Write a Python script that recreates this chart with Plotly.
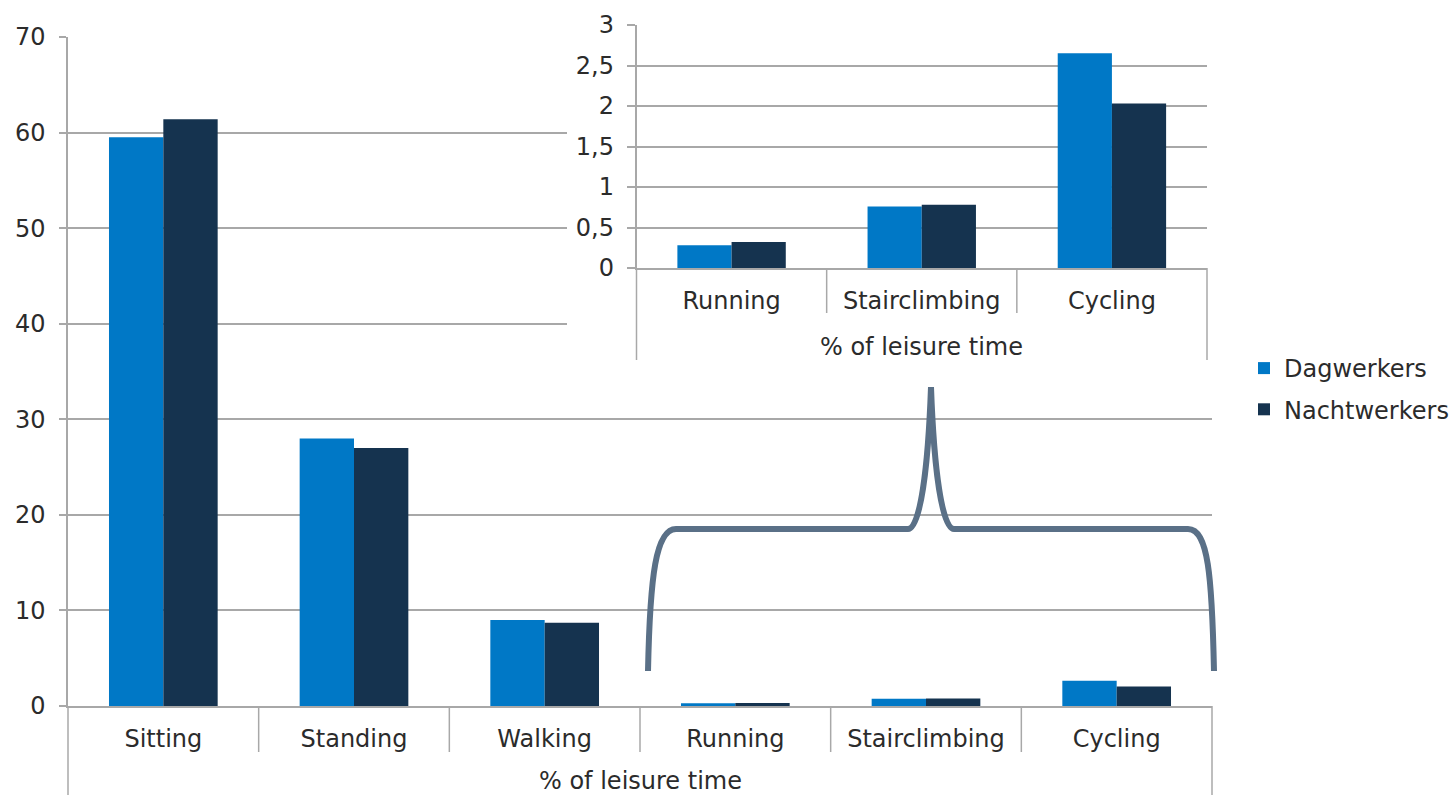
import plotly.graph_objects as go

# Share of leisure time spent per activity, day workers vs night workers
activities = ["Sitting", "Standing", "Walking", "Running", "Stairclimbing", "Cycling"]
dagwerkers = [59.5, 28.0, 9.0, 0.28, 0.76, 2.65]
nachtwerkers = [61.4, 27.0, 8.7, 0.32, 0.78, 2.03]

# The zoomed-in panel repeats the three smallest activities
inset_slice = slice(3, 6)

series_names = ["Dagwerkers", "Nachtwerkers"]
series_colors = ["#0078C6", "#15334F"]

axis_title = "% of leisure time"
main_ticks = [0, 10, 20, 30, 40, 50, 60, 70]
inset_ticks = [0, 0.5, 1, 1.5, 2, 2.5, 3]

W, H = 1450, 795
FONT = "DejaVu Sans"
TXT = "#2b2b2b"
GRID = "#a8a8a8"
FS = 24


def px_x(v):
    return v / W


def px_y(v):
    return 1 - v / H


fig = go.Figure()

# main panel bars
for name, vals, col in zip(series_names, [dagwerkers, nachtwerkers], series_colors):
    fig.add_trace(go.Bar(
        x=activities, y=vals, name=name, marker=dict(color=col, line=dict(width=0)),
        xaxis="x", yaxis="y", legendgroup=name, showlegend=True,
    ))

# empty layer on x2/y2: its white plot background masks the main grid behind the inset
fig.add_trace(go.Scatter(x=[], y=[], xaxis="x2", yaxis="y2", showlegend=False,
                         hoverinfo="skip"))

# inset bars
for name, vals, col in zip(series_names, [dagwerkers, nachtwerkers], series_colors):
    fig.add_trace(go.Bar(
        x=activities[inset_slice], y=vals[inset_slice], name=name,
        marker=dict(color=col, line=dict(width=0)),
        xaxis="x3", yaxis="y3", legendgroup=name, showlegend=False,
    ))

# panel domains (pixel based)
main_x = [px_x(68), px_x(1212)]
main_y = [px_y(706), px_y(37)]
ins_x = [px_x(636.5), px_x(1207)]
ins_y = [px_y(268), px_y(25)]
mask_x = [px_x(567), px_x(1214)]
mask_y = [px_y(372), 1]

main_h = 706 - 37
ins_h = 268 - 25

axis_common = dict(
    tickfont=dict(family=FONT, size=FS, color=TXT),
    linecolor=GRID, linewidth=1.5, gridcolor=GRID, gridwidth=1.5,
)
hidden = dict(visible=False, showgrid=False, zeroline=False, fixedrange=True)

fig.update_layout(
    width=W, height=H,
    margin=dict(l=0, r=0, t=0, b=0, autoexpand=False),
    paper_bgcolor="white", plot_bgcolor="white",
    separators=",.",
    barmode="group", bargap=0.43, bargroupgap=0,
    font=dict(family=FONT, size=FS, color=TXT),
    showlegend=True,
    legend=dict(
        x=px_x(1244), y=px_y(346), xanchor="left", yanchor="top",
        bgcolor="rgba(0,0,0,0)", tracegroupgap=7,
        font=dict(family=FONT, size=FS, color=TXT),
    ),
    xaxis=dict(
        domain=main_x, anchor="y", type="category",
        categoryorder="array", categoryarray=activities,
        showgrid=False, showline=True, ticks="", ticklabelstandoff=10,
        zeroline=False, automargin=False, **axis_common,
    ),
    yaxis=dict(
        domain=main_y, anchor="x", range=[0, 70], tickvals=main_ticks,
        showgrid=True, showline=True, ticks="outside", ticklen=7, tickcolor=GRID,
        tickwidth=1.5, zeroline=False, ticklabelstandoff=9, automargin=False,
        **axis_common,
    ),
    xaxis2=dict(domain=mask_x, anchor="y2", range=[0, 1], **hidden),
    yaxis2=dict(domain=mask_y, anchor="x2", range=[0, 1], **hidden),
    xaxis3=dict(
        domain=ins_x, anchor="y3", type="category",
        categoryorder="array", categoryarray=activities[inset_slice],
        showgrid=False, showline=True, ticks="", ticklabelstandoff=10,
        zeroline=False, automargin=False, **axis_common,
    ),
    yaxis3=dict(
        domain=ins_y, anchor="x3", range=[0, 3], tickvals=inset_ticks,
        showgrid=True, showline=True, ticks="outside", ticklen=8, tickcolor=GRID,
        tickwidth=1.5, zeroline=False, ticklabelstandoff=8, automargin=False,
        **axis_common,
    ),
)

shapes = []
line_style = dict(color=GRID, width=1.5)

# main panel category dividers and outer frame below the axis
n_main = len(activities)
for k in range(1, n_main):
    shapes.append(dict(type="line", xref="x domain", yref="y domain",
                       x0=k / n_main, x1=k / n_main, y0=0, y1=-46 / main_h, line=line_style))
for xd in (0, 1):
    shapes.append(dict(type="line", xref="x domain", yref="y domain",
                       x0=xd, x1=xd, y0=0, y1=-(800 - 706) / main_h, line=line_style))

# inset category dividers and frame
n_ins = len(activities[inset_slice])
for k in range(1, n_ins):
    shapes.append(dict(type="line", xref="x3 domain", yref="y3 domain",
                       x0=k / n_ins, x1=k / n_ins, y0=0, y1=-45 / ins_h, line=line_style))
for xd in (0, 1):
    shapes.append(dict(type="line", xref="x3 domain", yref="y3 domain",
                       x0=xd, x1=xd, y0=0, y1=-(360 - 268) / ins_h, line=line_style))

# curly brace linking the small bars to the inset
brace_pts = [
    ("M", [(648, 671)]),
    ("C", [(650, 575), (656, 529), (676, 529)]),
    ("L", [(908, 529)]),
    ("C", [(920, 529), (928, 470), (931, 387)]),
    ("C", [(934, 470), (942, 529), (954, 529)]),
    ("L", [(1188, 529)]),
    ("C", [(1208, 529), (1212, 575), (1214, 671)]),
]
path = " ".join(
    cmd + " " + " ".join(f"{px_x(x):.5f},{px_y(y):.5f}" for x, y in pts)
    for cmd, pts in brace_pts
)
shapes.append(dict(type="path", xref="paper", yref="paper", path=path,
                   layer="above", line=dict(color="#5A7087", width=6)))

fig.update_layout(shapes=shapes)

fig.add_annotation(text=axis_title, xref="x domain", yref="y domain",
                   x=0.5, y=-(781 - 706) / main_h, showarrow=False,
                   xanchor="center", yanchor="middle",
                   font=dict(family=FONT, size=FS, color=TXT))
fig.add_annotation(text=axis_title, xref="x3 domain", yref="y3 domain",
                   x=0.5, y=-(347 - 268) / ins_h, showarrow=False,
                   xanchor="center", yanchor="middle",
                   font=dict(family=FONT, size=FS, color=TXT))

fig.write_html("out.html")
